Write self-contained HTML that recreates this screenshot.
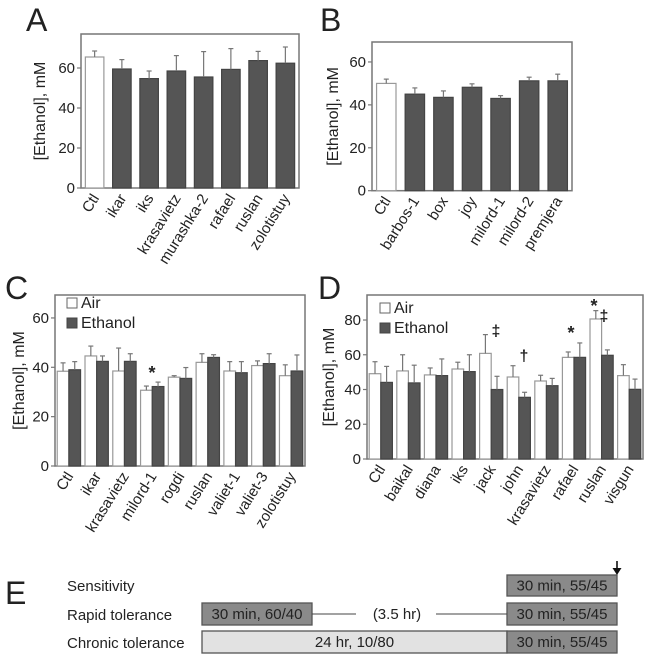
<!DOCTYPE html>
<html><head><meta charset="utf-8"><style>
body{margin:0;background:#fff;width:652px;height:660px;overflow:hidden}
svg text{font-family:"Liberation Sans",Arial,sans-serif;fill:#222}
</style></head><body>
<svg id="fig" width="652" height="660" xmlns="http://www.w3.org/2000/svg"></svg>
<script>
// Panel A
const catsA=["Ctl","ikar","iks","krasavietz","murashka-2","rafael","ruslan","zolotistuy"];
const valsA=[65.5,59.5,54.7,58.5,55.5,59.3,63.7,62.4];
const errA=[68.5,64.2,58.5,66.2,68.2,69.7,68.3,70.5];
// Panel B
const catsB=["Ctl","barbos-1","box","joy","milord-1","milord-2","premjera"];
const valsB=[50,45,43.5,48.2,43,51.2,51.2];
const errB=[52,47.9,46.5,49.8,44.3,52.9,54.3];
// Panel C
const catsC=["Ctl","ikar","krasavietz","milord-1","rogdi","ruslan","valiet-1","valiet-3","zolotistuy"];
const airC=[38.4,44.6,38.5,30.7,36,42,38.5,40.7,36.6];
const airErrC=[41.8,48.6,47.8,32.4,36.6,45.5,42.3,42.6,41];
const ethC=[39,42.4,42.4,32.2,35.5,44,37.8,41.5,38.5];
const ethErrC=[42.3,44.6,45.5,34,39.9,45.1,42.3,45.5,45];
// Panel D
const catsD=["Ctl","baikal","diana","iks","jack","john","krasavietz","rafael","ruslan","visgun"];
const airD=[49.1,50.7,48.4,51.8,60.8,47.2,44.9,58.5,80.6,48];
const airErrD=[56,60,52.4,55.7,71.6,53.7,48.2,61.6,85.4,54.3];
const ethD=[44.1,43.8,48,50.3,40,35.5,42.2,58.5,59.7,40.1];
const ethErrD=[53.3,54,57.6,60,47.6,38.4,46.4,66.8,62.8,46];
const ticksA=[0,20,40,60], ticksB=[0,20,40,60], ticksC=[0,20,40,60], ticksD=[0,20,40,60,80];

const svg=document.getElementById('fig');
const NS="http://www.w3.org/2000/svg";
function el(tag,attrs,parent){const e=document.createElementNS(NS,tag);for(const k in attrs)e.setAttribute(k,attrs[k]);(parent||svg).appendChild(e);return e;}
function txt(s,attrs,parent){const t=el('text',attrs,parent);t.textContent=s;return t;}

function panel(key,cfg){
  const g=el('g',{});
  
  
  const {x0,x1,yTop,y0,ymax,ticks,cats}=cfg;
  const sy=v=>y0-(v/ymax)*(y0-yTop);
  const slot=(x1-x0)/cats.length;
  const fr=el('rect',{x:x0,y:yTop,width:x1-x0,height:y0-yTop,fill:'none',stroke:'#777','stroke-width':1.5},g);
  
  
  ticks.forEach(t=>{
    el('line',{x1:x0-4,x2:x0,y1:sy(t),y2:sy(t),stroke:'#777','stroke-width':1.2},g);
    const tl=txt(String(t),{x:x0-6,y:sy(t)+5,'font-size':15,'text-anchor':'end'},g);
    
    
  });
  const yt=txt('[Ethanol], mM',{x:0,y:0,'font-size':16,'text-anchor':'middle',transform:`translate(${cfg.ytx},${(yTop+y0)/2}) rotate(-90)`},g);
  
  
  const pl=txt(key,{x:cfg.lx,y:cfg.ly,'font-size':32},g);
  
  
  function bar(cx,w,v,e,fill,stroke){
    const r=el('rect',{x:cx-w/2,y:sy(v),width:w,height:y0-sy(v),fill:fill,stroke:stroke,'stroke-width':1.2},g);
    
    
    el('line',{x1:cx,x2:cx,y1:sy(v),y2:sy(e),stroke:'#777','stroke-width':1.2},g);
    el('line',{x1:cx-2.5,x2:cx+2.5,y1:sy(e),y2:sy(e),stroke:'#777','stroke-width':1.2},g);
  }
  cats.forEach((c,i)=>{
    const cx=x0+slot*(i+0.5);
    if(cfg.single){
      const w=slot*0.68;
      if(i===0) bar(cx,w,cfg.vals[i],cfg.err[i],'#fff','#999');
      else bar(cx,w,cfg.vals[i],cfg.err[i],'#555','#444');
    } else {
      const w=slot*0.42;
      bar(cx-w/2,w,cfg.air[i],cfg.airErr[i],'#fff','#999');
      bar(cx+w/2,w,cfg.eth[i],cfg.ethErr[i],'#555','#444');
    }
    const lb=txt(c,{x:0,y:0,'font-size':15,'text-anchor':'end',transform:`translate(${cx+5},${y0+10}) rotate(-58)`},g);
    
    
  });
  if(!cfg.single){
    const lg=el('g',{},g);
    
    
    el('rect',{x:cfg.legx,y:cfg.legy-10,width:10,height:10,fill:'#fff',stroke:'#666'},lg);
    txt('Air',{x:cfg.legx+14,y:cfg.legy,'font-size':16},lg);
    el('rect',{x:cfg.legx,y:cfg.legy+10,width:10,height:10,fill:'#555',stroke:'#444'},lg);
    txt('Ethanol',{x:cfg.legx+14,y:cfg.legy+20,'font-size':16},lg);
  }
  return g;
}
panel('A',{x0:81,x1:299,yTop:34,y0:188,ymax:77,ticks:ticksA,cats:catsA,single:true,vals:valsA,err:errA,ytx:45,lx:26,ly:31,});
panel('B',{x0:372,x1:572,yTop:42,y0:190.7,ymax:69.3,ticks:ticksB,cats:catsB,single:true,vals:valsB,err:errB,ytx:338,lx:320,ly:31});
panel('C',{x0:55,x1:305,yTop:295,y0:466,ymax:69.3,ticks:ticksC,cats:catsC,single:false,air:airC,airErr:airErrC,eth:ethC,ethErr:ethErrC,ytx:24,lx:5,ly:299,legx:67,legy:308});
panel('D',{x0:367,x1:643,yTop:295,y0:459,ymax:94.4,ticks:ticksD,cats:catsD,single:false,air:airD,airErr:airErrD,eth:ethD,ethErr:ethErrD,ytx:334,lx:318,ly:299,legx:380,legy:313});
// markers
[["*",152,379,18],["\u2021",496,336,16],["\u2020",524,361,16],["*",571,339,18],["*",594,312,18],["\u2021",604,321,16]].forEach(m=>{
  const t=txt(m[0],{x:m[1],y:m[2],'font-size':m[3],'text-anchor':'middle','font-weight':'bold'});
  
  
});
// Panel E
const gE=el('g',{});


const eL=txt('E',{x:5,y:604,'font-size':32},gE);


[["Sensitivity",591],["Rapid tolerance",620],["Chronic tolerance",648]].forEach(r=>{
  const t=txt(r[0],{x:67,y:r[1],'font-size':15},gE);
  
  
});
function box(x,y,w,h,fill,label,name){
  const r=el('rect',{x:x,y:y,width:w,height:h,fill:fill,stroke:'#555','stroke-width':1.3},gE);
  
  
  txt(label,{x:x+w/2,y:y+h/2+5,'font-size':15,'text-anchor':'middle'},gE);
}
box(507,575,110,21,'#8a8a8a','30 min, 55/45','sensitivity-box');
box(202,603,110,22,'#8a8a8a','30 min, 60/40','rapid-pre-box');
box(507,603,110,22,'#8a8a8a','30 min, 55/45','rapid-test-box');
box(202,631,305,22,'#e2e2e2','24 hr, 10/80','chronic-pre-box');
box(507,631,110,22,'#8a8a8a','30 min, 55/45','chronic-test-box');
el('line',{x1:312,x2:356,y1:614,y2:614,stroke:'#444','stroke-width':1},gE);
el('line',{x1:436,x2:507,y1:614,y2:614,stroke:'#444','stroke-width':1},gE);
txt('(3.5 hr)',{x:397,y:619,'font-size':15,'text-anchor':'middle'},gE);
const ar=el('g',{},gE);


el('line',{x1:617,x2:617,y1:561,y2:572,stroke:'#111','stroke-width':1.6},ar);
el('path',{d:'M612.5,568 L621.5,568 L617,575 Z',fill:'#111'},ar);
</script>
</body></html>
